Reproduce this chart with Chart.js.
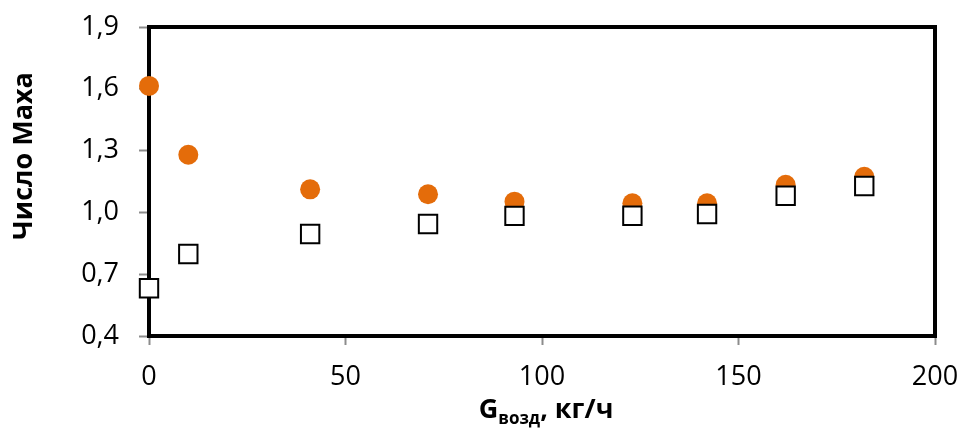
<!DOCTYPE html>
<html lang="ru">
<head>
    <meta charset="UTF-8">
    <title>Число Маха</title>
    <script src="https://cdn.jsdelivr.net/npm/chart.js"></script>
    <style>
        html, body { margin: 0; padding: 0; background: #fff; overflow: hidden; }
        #wrap { width: 962px; height: 428px; }
    </style>
</head>
<body>
    <div id="wrap">
        <canvas id="machChart" width="962" height="428"></canvas>
    </div>

    <script>
        // Данные
        const gAir = [0, 10, 41, 71, 93, 123, 142, 162, 182];
        const machCircles = [1.614, 1.280, 1.112, 1.088, 1.052, 1.044, 1.044, 1.134, 1.173];
        const machSquares = [0.632, 0.798, 0.895, 0.944, 0.983, 0.984, 0.992, 1.081, 1.128];
        const xTicks = [0, 50, 100, 150, 200];
        const yTicks = [0.4, 0.7, 1.0, 1.3, 1.6, 1.9];

        const yTitle = 'Число Маха';
        const xTitleMain = 'G';
        const xTitleSub = 'возд';
        const xTitleTail = ', кг/ч';

        const FONT = "'Open Sans', 'Noto Sans', sans-serif";

        // Рамка вокруг области построения и подписи осей
        const framePlugin = {
            id: 'frame',
            beforeDatasetsDraw(chart) {
                const a = chart.chartArea;
                const ctx = chart.ctx;
                ctx.save();
                ctx.strokeStyle = '#000';
                ctx.lineWidth = 4;
                ctx.strokeRect(a.left, a.top, a.right - a.left, a.bottom - a.top);
                ctx.restore();
            },
            afterDraw(chart) {
                const a = chart.chartArea;
                const ctx = chart.ctx;
                ctx.save();
                ctx.fillStyle = '#000';

                // подпись оси Y
                ctx.font = 'bold 27px ' + FONT;
                ctx.translate(24, 156);
                ctx.rotate(-Math.PI / 2);
                ctx.textAlign = 'center';
                ctx.textBaseline = 'middle';
                ctx.fillText(yTitle, 0, 0);
                ctx.setTransform(1, 0, 0, 1, 0, 0);

                // подпись оси X с нижним индексом
                const big = 'bold 27px ' + FONT;
                const small = 'bold 17px ' + FONT;
                ctx.textAlign = 'left';
                ctx.textBaseline = 'alphabetic';
                ctx.font = big;
                const w1 = ctx.measureText(xTitleMain).width;
                const w3 = ctx.measureText(xTitleTail).width;
                ctx.font = small;
                const w2 = ctx.measureText(xTitleSub).width;
                let x = (a.left + a.right) / 2 + 4 - (w1 + w2 + w3) / 2;
                const base = 418;
                ctx.font = big;
                ctx.fillText(xTitleMain, x, base);
                x += w1;
                ctx.font = small;
                ctx.fillText(xTitleSub, x, base + 6);
                x += w2;
                ctx.font = big;
                ctx.fillText(xTitleTail, x, base);
                ctx.restore();
            }
        };

        const ctx = document.getElementById('machChart').getContext('2d');
        const machChart = new Chart(ctx, {
            type: 'scatter',
            data: {
                datasets: [{
                    label: 'squares',
                    data: gAir.map((g, i) => ({ x: g, y: machSquares[i] })),
                    pointStyle: 'rect',
                    radius: 13,
                    hoverRadius: 13,
                    backgroundColor: '#fff',
                    borderColor: '#000',
                    borderWidth: 2,
                    clip: false
                }, {
                    label: 'circles',
                    data: gAir.map((g, i) => ({ x: g, y: machCircles[i] })),
                    pointStyle: 'circle',
                    radius: 10,
                    hoverRadius: 10,
                    backgroundColor: '#E46C0A',
                    borderColor: '#E46C0A',
                    borderWidth: 0,
                    clip: false
                }]
            },
            options: {
                responsive: false,
                animation: false,
                layout: { padding: { top: 27, right: 27, left: 0, bottom: 0 } },
                plugins: {
                    legend: { display: false },
                    tooltip: { enabled: false }
                },
                scales: {
                    x: {
                        type: 'linear',
                        min: 0,
                        max: 200,
                        afterBuildTicks: s => { s.ticks = xTicks.map(v => ({ value: v })); },
                        afterFit: s => { s.height = 92; s.paddingLeft = 0; s.paddingRight = 0; },
                        grid: { drawOnChartArea: false, tickLength: 9, tickColor: '#8c8c8c', tickWidth: 2 },
                        border: { display: false },
                        ticks: {
                            padding: 16,
                            color: '#000',
                            font: { family: FONT, size: 27 }
                        }
                    },
                    y: {
                        type: 'linear',
                        min: 0.4,
                        max: 1.9,
                        afterBuildTicks: s => { s.ticks = yTicks.map(v => ({ value: v })); },
                        afterFit: s => { s.width = 149; s.paddingTop = 0; s.paddingBottom = 0; },
                        grid: { drawOnChartArea: false, tickLength: 10, tickColor: '#8c8c8c', tickWidth: 2 },
                        border: { display: false },
                        ticks: {
                            padding: 20,
                            color: '#000',
                            font: { family: FONT, size: 27 },
                            callback: v => v.toFixed(1).replace('.', ',')
                        }
                    }
                }
            },
            plugins: [framePlugin]
        });
    </script>
</body>
</html>
